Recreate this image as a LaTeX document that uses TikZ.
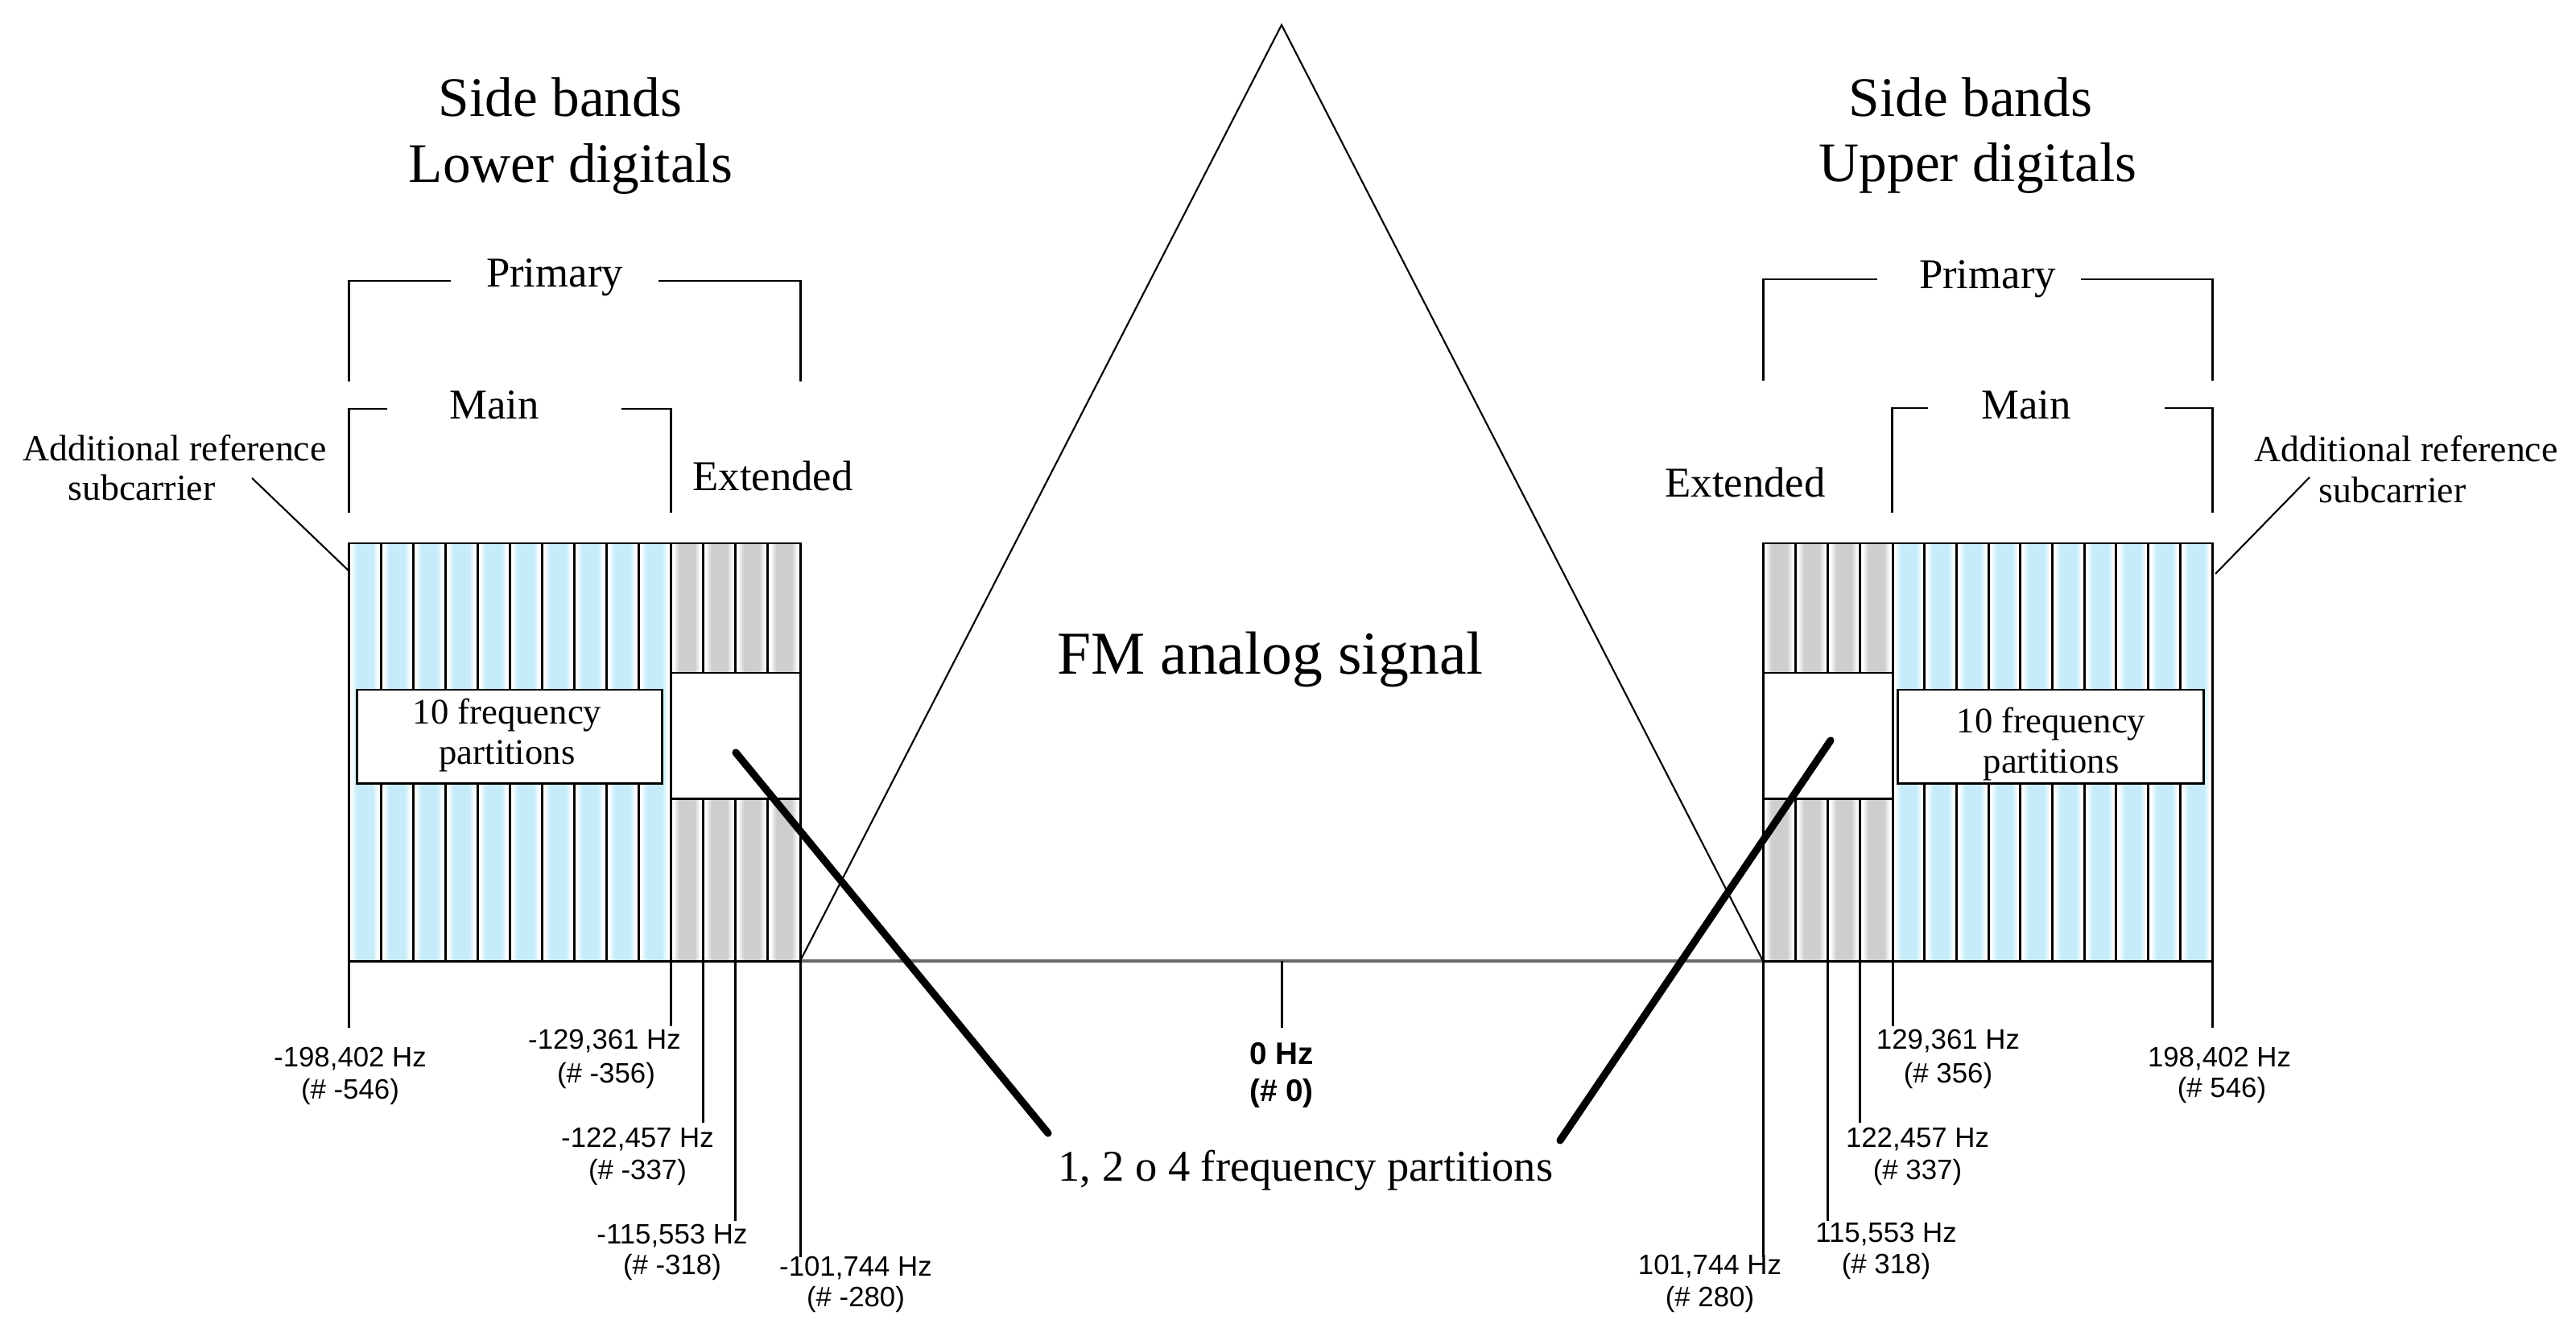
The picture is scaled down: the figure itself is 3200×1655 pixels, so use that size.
\documentclass[tikz,border=0pt]{standalone}
\usepackage{fontspec}
\setmainfont{Liberation Serif}
\newfontfamily\labfont{Liberation Sans}
\definecolor{stripeblue}{RGB}{198,236,250}
\definecolor{stripegray}{RGB}{206,206,206}
\definecolor{baseln}{RGB}{105,105,105}
\pgfdeclarehorizontalshading{bluestripe}{100bp}{color(0bp)=(white); color(25bp)=(white); color(29bp)=(white); color(38bp)=(stripeblue); color(62bp)=(stripeblue); color(71bp)=(white); color(75bp)=(white); color(100bp)=(white)}
\pgfdeclarehorizontalshading{graystripe}{100bp}{color(0bp)=(white); color(25bp)=(white); color(29bp)=(white); color(38bp)=(stripegray); color(62bp)=(stripegray); color(71bp)=(white); color(75bp)=(white); color(100bp)=(white)}
\begin{document}
\begin{tikzpicture}[x=0.01cm,y=-0.01cm,
  bl/.style={line width=0.85pt},
  thin/.style={line width=0.6pt},
  thick2/.style={line width=2.6pt,line cap=round},
  title/.style={font=\fontsize{19.7}{23}\selectfont,anchor=base,inner sep=0pt},
  brk/.style={font=\fontsize{15}{18}\selectfont,anchor=base,inner sep=0pt},
  addl/.style={font=\fontsize{13}{15}\selectfont,anchor=base,inner sep=0pt},
  part/.style={font=\fontsize{12.7}{15}\selectfont,anchor=base,inner sep=0pt},
  freq/.style={font=\labfont\fontsize{9.9}{12}\selectfont,anchor=base,inner sep=0pt},
  freqb/.style={font=\labfont\bfseries\fontsize{11}{13}\selectfont,anchor=base,inner sep=0pt},
  box/.style={fill=white,draw=black,line width=0.85pt}]
\useasboundingbox (0,0) rectangle (3200,1655);

% ---------- titles
\node[title] (sbL) at (696,145) {Side bands};
\node[title] (ldL) at (709,227) {Lower digitals};
\node[title] (sbR) at (2448,145) {Side bands};
\node[title] (udR) at (2457,226) {Upper digitals};

% ---------- FM triangle
\coordinate (apex) at (1592,31);
\coordinate (triL) at (994,1194);
\coordinate (triR) at (2190,1194);
\draw[baseln,line width=1.1pt] (triL) -- (triR);
\draw[thin] (triL) -- (apex) -- (triR);
\node[font=\fontsize{21.5}{25}\selectfont,anchor=base,inner sep=0pt] (fm) at (1578,837) {FM analog signal};

% ---------- left band
\foreach \i in {0,...,9}
  \shade[shading=bluestripe] ({433+40*\i},675) rectangle ({473+40*\i},1194);
\foreach \i in {0,...,3}
  \shade[shading=graystripe] ({833+40.25*\i},675) rectangle ({873.25+40.25*\i},1194);
\foreach \i in {1,...,10}
  \draw[bl] ({433+40*\i},675) -- ({433+40*\i},1194);
\foreach \i in {1,...,3}
  \draw[bl] ({833+40.25*\i},675) -- ({833+40.25*\i},1194);
\draw[box] (833,836) rectangle (994,992);
\draw[box] (443,857) rectangle (822,973);
\draw[bl] (433,675) rectangle (994,1194);
\node[part] (p10L) at (630,899) {10 frequency};
\node[part] (p10Lb) at (630,949) {partitions};

% ---------- right band
\foreach \i in {0,...,3}
  \shade[shading=graystripe] ({2190+40.25*\i},675) rectangle ({2230.25+40.25*\i},1194);
\foreach \i in {0,...,9}
  \shade[shading=bluestripe] ({2351+39.7*\i},675) rectangle ({2390.7+39.7*\i},1194);
\foreach \i in {1,...,4}
  \draw[bl] ({2190+40.25*\i},675) -- ({2190+40.25*\i},1194);
\foreach \i in {1,...,9}
  \draw[bl] ({2351+39.7*\i},675) -- ({2351+39.7*\i},1194);
\draw[box] (2190,836) rectangle (2351,992);
\draw[box] (2357,857) rectangle (2737,973);
\draw[bl] (2190,675) rectangle (2748,1194);
\node[part] (p10R) at (2548,910) {10 frequency};
\node[part] (p10Rb) at (2548,960) {partitions};

% ---------- brackets left
\draw[bl] (433,474) -- (433,349) -- (560,349);
\draw[bl] (818,349) -- (994,349) -- (994,474);
\node[brk] (primL) at (689,357) {Primary};
\draw[bl] (433,637) -- (433,508) -- (481,508);
\draw[bl] (772,508) -- (833,508) -- (833,637);
\node[brk] (mainL) at (614,520) {Main};
\node[brk] (extL) at (960,610) {Extended};

% ---------- brackets right
\draw[bl] (2190,473) -- (2190,347) -- (2332,347);
\draw[bl] (2585,347) -- (2748,347) -- (2748,473);
\node[brk] (primR) at (2469,359) {Primary};
\draw[bl] (2350,637) -- (2350,507) -- (2395,507);
\draw[bl] (2689,507) -- (2748,507) -- (2748,637);
\node[brk] (mainR) at (2517,521) {Main};
\node[brk] (extR) at (2168,617) {Extended};

% ---------- additional reference subcarrier
\node[addl] (arL) at (217,572) {Additional reference};
\node[addl] (scL) at (176,621) {subcarrier};
\coordinate (arLa) at (313,594);
\coordinate (arLb) at (433,709);
\draw[thin] (arLa) -- (arLb);
\node[addl] (arR) at (2989,573) {Additional reference};
\node[addl] (scR) at (2972,624) {subcarrier};
\coordinate (arRa) at (2869,593);
\coordinate (arRb) at (2752,713);
\draw[thin] (arRa) -- (arRb);

% ---------- 1, 2 o 4 frequency partitions
\node[font=\fontsize{15.5}{18}\selectfont,anchor=base,inner sep=0pt] (p124) at (1622,1467) {1, 2 o 4 frequency partitions};
\coordinate (thLs) at (914,935);
\coordinate (thLe) at (1302,1408);
\coordinate (thRs) at (2274,920);
\coordinate (thRe) at (1938,1417);
\draw[thick2] (thLs) -- (thLe);
\draw[thick2] (thRs) -- (thRe);

% ---------- ticks and frequency labels (left)
\draw[bl] (433,1194) -- (433,1277);
\node[freq] (f1) at (435,1325) {-198,402 Hz};
\node[freq] (f1b) at (435,1365) {(\# -546)};
\draw[bl] (833,1194) -- (833,1275);
\node[freq] (f2) at (751,1303) {-129,361 Hz};
\node[freq] (f2b) at (753,1345) {(\# -356)};
\draw[bl] (873.25,1194) -- (873.25,1395);
\node[freq] (f3) at (792,1425) {-122,457 Hz};
\node[freq] (f3b) at (792,1465) {(\# -337)};
\draw[bl] (913.5,1194) -- (913.5,1517);
\node[freq] (f4) at (835,1545) {-115,553 Hz};
\node[freq] (f4b) at (835,1583) {(\# -318)};
\draw[bl] (994,1194) -- (994,1562);
\node[freq] (f5) at (1063,1585) {-101,744 Hz};
\node[freq] (f5b) at (1063,1623) {(\# -280)};

% ---------- centre
\draw[bl] (1592,1194) -- (1592,1277);
\node[freqb] (f0) at (1592,1322) {0 Hz};
\node[freqb] (f0b) at (1592,1368) {(\# 0)};

% ---------- ticks and frequency labels (right)
\draw[bl] (2190,1194) -- (2190,1562);
\node[freq] (g5) at (2124,1583) {101,744 Hz};
\node[freq] (g5b) at (2124,1623) {(\# 280)};
\draw[bl] (2270.5,1194) -- (2270.5,1517);
\node[freq] (g4) at (2343,1543) {115,553 Hz};
\node[freq] (g4b) at (2343,1582) {(\# 318)};
\draw[bl] (2310.75,1194) -- (2310.75,1395);
\node[freq] (g3) at (2382,1425) {122,457 Hz};
\node[freq] (g3b) at (2382,1465) {(\# 337)};
\draw[bl] (2351,1194) -- (2351,1275);
\node[freq] (g2) at (2420,1303) {129,361 Hz};
\node[freq] (g2b) at (2420,1345) {(\# 356)};
\draw[bl] (2748,1194) -- (2748,1277);
\node[freq] (g1) at (2757,1325) {198,402 Hz};
\node[freq] (g1b) at (2760,1363) {(\# 546)};
\end{tikzpicture}
\end{document}
